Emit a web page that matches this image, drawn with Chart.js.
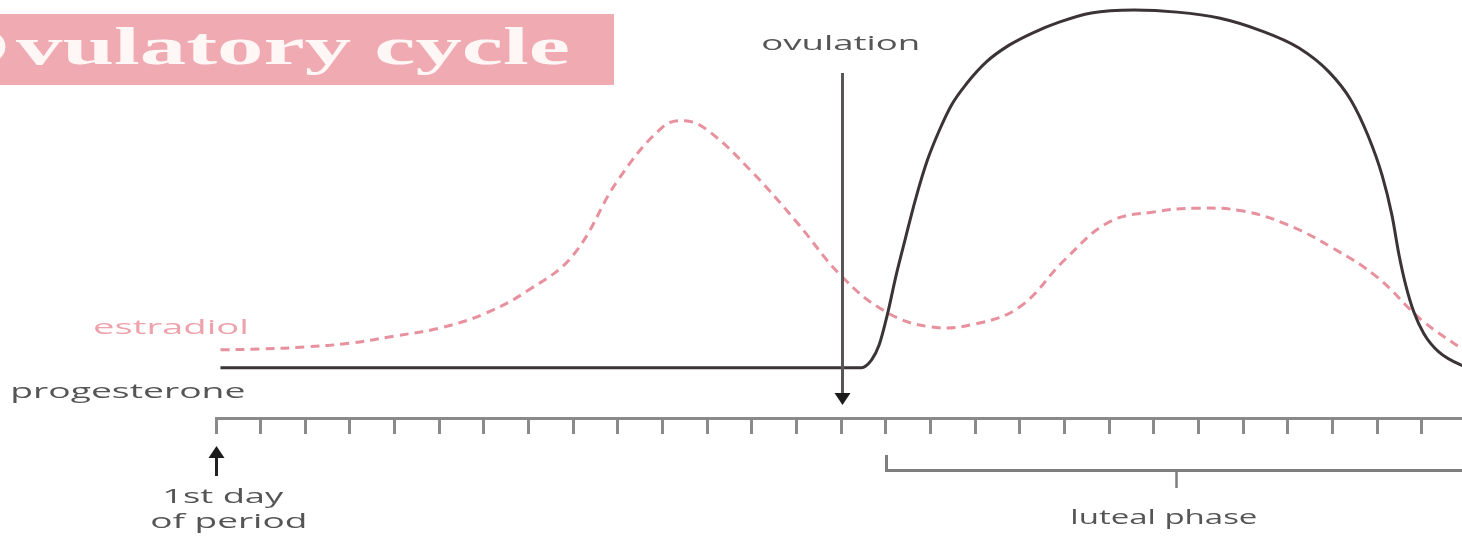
<!DOCTYPE html>
<html>
<head>
<meta charset="utf-8">
<title>Ovulatory cycle</title>
<style>
  html, body { margin: 0; padding: 0; background: #ffffff; }
  canvas { display: block; }
</style>
<script src="https://cdn.jsdelivr.net/npm/chart.js@4.4.1/dist/chart.umd.min.js"></script>
</head>
<body>
<canvas id="cycle" width="1462" height="539"></canvas>
<script>
// Cycle days along the axis (day 0 = first day of period)
const cycleDays = [0, 1, 2, 3, 4, 5, 6, 7, 8, 9, 10, 11, 12, 13, 14,
                   15, 16, 17, 18, 19, 20, 21, 22, 23, 24, 25, 26, 27, 28];
const ovulationDay = 14;
const lutealStartDay = 15;
const lutealEndDay = 28;

// Progesterone, relative level (0–100)
const progesteroneDays = [0.1, 14.45, 14.68, 14.85, 15.03, 15.23, 15.44, 15.66, 15.93, 16.2,
                          16.47, 16.8, 17.25, 17.76, 18.28, 18.88, 19.6, 20.56, 21.52, 22.46,
                          23.36, 24.25, 24.92, 25.41, 25.79, 26.11, 26.33, 26.49, 26.64, 26.82,
                          27.05, 27.38, 27.87, 28.0];
const progesteroneLevels = [12, 12, 13.9, 17.5, 24.6, 34.2, 43.1, 52.2, 61.7, 68.9,
                            74.9, 79.9, 85.2, 89.2, 92.1, 94.7, 96.9, 97.6, 97.1, 95.7,
                            92.8, 88.5, 82.8, 76.1, 67.7, 58.1, 48.6, 39.0, 31.8, 25.4,
                            20.1, 15.8, 12.7, 12.3];

// Estradiol, relative level (0–100), one reading per day plus the peak
const estradiolDays = [0.1, 1, 2, 3, 4, 5, 6, 7, 8, 9,
                       10, 10.5, 11, 12, 13, 14, 15, 16, 17, 18,
                       19, 20, 21, 22, 23, 24, 25, 26, 27, 28];
const estradiolLevels = [16.3, 16.5, 17.0, 17.9, 19.6, 21.5, 24.9, 30.6, 39.0, 56.9,
                         69.6, 71.1, 68.9, 58.9, 46.9, 34.0, 25.4, 21.8, 22.5, 26.6,
                         37.8, 46.9, 49.3, 50.2, 49.5, 46.2, 40.7, 33.7, 23.4, 15.8];

// Text drawn on the chart
const titleText = 'Ovulatory cycle';
const seriesNames = ['progesterone', 'estradiol'];
const ovulationLabel = 'ovulation';
const firstDayLabel = ['1st day', 'of period'];
const lutealLabel = 'luteal phase';

const toPoints = (xs, ys) => xs.map((x, i) => ({ x: x, y: ys[i] }));

// Draws text stretched horizontally so its ink spans [left, right]
function drawStretched(ctx, text, font, color, left, right, baseline) {
  ctx.save();
  ctx.font = font;
  const m = ctx.measureText(text);
  const ink = m.actualBoundingBoxLeft + m.actualBoundingBoxRight;
  const sx = (right - left) / ink;
  ctx.translate(left, baseline);
  ctx.scale(sx, 1);
  ctx.fillStyle = color;
  ctx.textAlign = 'left';
  ctx.textBaseline = 'alphabetic';
  ctx.fillText(text, m.actualBoundingBoxLeft, 0);
  ctx.restore();
}

const labelFont = '20px "Open Sans", "DejaVu Sans", sans-serif';
const greyText = '#555555';
const pinkText = '#eea2ac';

const decorations = {
  id: 'decorations',
  afterDatasetsDraw(chart) {
    const ctx = chart.ctx;
    const x = chart.scales.x;

    // ovulation arrow
    const ox = Math.round(x.getPixelForValue(ovulationDay)) + 1.5;
    ctx.save();
    ctx.strokeStyle = '#5b5557';
    ctx.lineWidth = 3;
    ctx.beginPath();
    ctx.moveTo(ox, 73);
    ctx.lineTo(ox, 395);
    ctx.stroke();
    ctx.fillStyle = '#1c1c1c';
    ctx.beginPath();
    ctx.moveTo(ox - 8, 393);
    ctx.lineTo(ox + 8, 393);
    ctx.lineTo(ox, 405);
    ctx.closePath();
    ctx.fill();
    ctx.restore();
  },
  afterDraw(chart) {
    const ctx = chart.ctx;
    const x = chart.scales.x;

    // title banner
    ctx.save();
    ctx.fillStyle = '#efaab2';
    ctx.fillRect(0, 14, 614, 71);
    ctx.font = 'bold 52px "Liberation Serif", "DejaVu Serif", serif';
    const sub = titleText.slice(1);
    const mSub = ctx.measureText(sub);
    const wFirst = ctx.measureText(titleText.charAt(0)).width;
    const sx = (568 - 16) / (mSub.actualBoundingBoxLeft + mSub.actualBoundingBoxRight);
    const originX = 16 - sx * (wFirst - mSub.actualBoundingBoxLeft) - 6;
    ctx.translate(originX, 64);
    ctx.scale(sx, 1);
    ctx.fillStyle = '#fff6f6';
    ctx.textAlign = 'left';
    ctx.textBaseline = 'alphabetic';
    ctx.fillText(titleText.charAt(0), 0, 0);
    ctx.fillText(sub, (6 / sx) + wFirst, 0);
    ctx.restore();

    // labels
    drawStretched(ctx, ovulationLabel, labelFont, greyText, 763, 918, 50);
    drawStretched(ctx, seriesNames[1], labelFont, pinkText, 95, 247, 334);
    drawStretched(ctx, seriesNames[0], labelFont, greyText, 12, 245, 398);
    drawStretched(ctx, firstDayLabel[0], labelFont, greyText, 164, 285, 503);
    drawStretched(ctx, firstDayLabel[1], labelFont, greyText, 152, 305, 528);

    // first-day arrow
    const fx = Math.round(x.getPixelForValue(0)) + 0.5;
    ctx.save();
    ctx.strokeStyle = '#222222';
    ctx.lineWidth = 3;
    ctx.beginPath();
    ctx.moveTo(fx, 454);
    ctx.lineTo(fx, 476);
    ctx.stroke();
    ctx.fillStyle = '#1c1c1c';
    ctx.beginPath();
    ctx.moveTo(fx - 8, 458);
    ctx.lineTo(fx + 8, 458);
    ctx.lineTo(fx, 446);
    ctx.closePath();
    ctx.fill();
    ctx.restore();

    // luteal phase bracket
    const lx1 = Math.round(x.getPixelForValue(lutealStartDay)) + 0.5;
    const lx2 = x.getPixelForValue(lutealEndDay);
    const mid = Math.round((lx1 + lx2) / 2) + 0.5;
    ctx.save();
    ctx.strokeStyle = '#7e7e7e';
    ctx.lineWidth = 3;
    ctx.lineJoin = 'miter';
    ctx.beginPath();
    ctx.moveTo(lx1, 455);
    ctx.lineTo(lx1, 470.5);
    ctx.lineTo(lx2, 470.5);
    ctx.stroke();
    ctx.lineWidth = 2.5;
    ctx.beginPath();
    ctx.moveTo(mid, 471);
    ctx.lineTo(mid, 488);
    ctx.stroke();
    ctx.restore();
    const lw = 185;
    drawStretched(ctx, lutealLabel, labelFont, greyText, mid - lw / 2 - 12, mid + lw / 2 - 12, 524);
  }
};

new Chart(document.getElementById('cycle'), {
  type: 'line',
  data: {
    datasets: [
      {
        label: seriesNames[0],
        data: toPoints(progesteroneDays, progesteroneLevels),
        borderColor: '#3b3335',
        borderWidth: 3,
        pointRadius: 0,
        fill: false,
        cubicInterpolationMode: 'monotone'
      },
      {
        label: seriesNames[1],
        data: toPoints(estradiolDays, estradiolLevels),
        borderColor: '#e8919e',
        borderWidth: 3,
        borderDash: [9, 6],
        pointRadius: 0,
        fill: false,
        tension: 0.4
      }
    ]
  },
  options: {
    responsive: false,
    animation: false,
    devicePixelRatio: 1,
    layout: { padding: { left: 216, right: 0, top: 0, bottom: 105 } },
    plugins: { legend: { display: false }, tooltip: { enabled: false }, title: { display: false } },
    scales: {
      x: {
        type: 'linear',
        position: 'bottom',
        min: 0,
        max: 27.9,
        afterBuildTicks: axis => { axis.ticks = cycleDays.map(d => ({ value: d })); },
        ticks: { display: false },
        grid: {
          drawOnChartArea: false,
          drawTicks: true,
          tickLength: 16,
          color: '#8a8a8a',
          lineWidth: 3
        },
        border: { display: true, color: '#8a8a8a', width: 3 }
      },
      y: {
        display: false,
        min: 0,
        max: 100
      }
    }
  },
  plugins: [decorations]
});
</script>
</body>
</html>
